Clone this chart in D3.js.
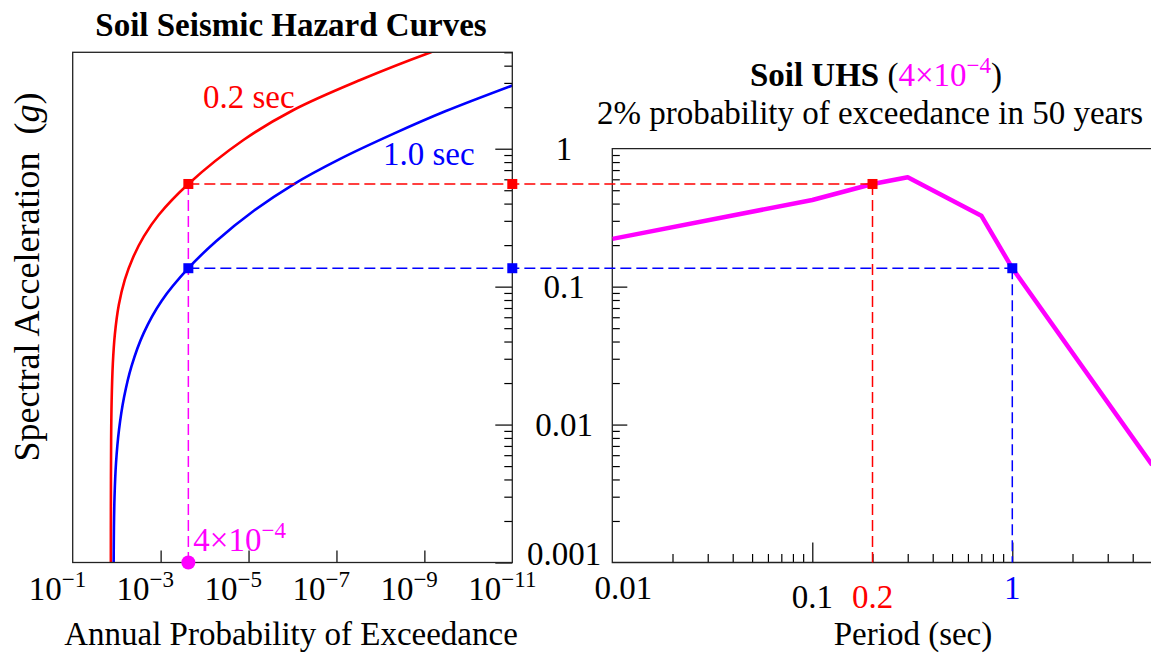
<!DOCTYPE html>
<html>
<head>
<meta charset="utf-8">
<script src="https://cdn.jsdelivr.net/npm/d3@7"></script>
<style>
body { margin: 0; background: #fff; }
text { font-family: "Liberation Serif", "DejaVu Serif", serif; }
</style>
</head>
<body>
<script>
// hazard curves: [annual probability, Sa (g)]
var hazard02 = [[0.013564, 0.001], [0.013539, 0.002379], [0.013363, 0.007656], [0.013018, 0.01473],
  [0.012222, 0.0276], [0.011005, 0.04486], [0.008925, 0.07379], [0.006517, 0.11238],
  [0.004283, 0.16148], [0.002407, 0.23121], [0.0010965, 0.33214], [2.34e-4, 0.555],
  [1.308e-5, 1.156], [9.515e-7, 1.909], [2.884e-8, 3.149], [7.355e-10, 4.984], [8.666e-11, 6.30]];
var hazard10 = [[0.011703, 0.001], [0.011556, 0.001703], [0.011182, 0.003], [0.010334, 0.005284],
  [0.008831, 0.009183], [0.006796, 0.01575], [0.004587, 0.02655], [0.002445, 0.04585],
  [9.52e-4, 0.07872], [2.34e-4, 0.136], [5.47e-5, 0.2134], [7.46e-6, 0.3562],
  [9.665e-7, 0.55], [8.23e-8, 0.8434], [5.12e-9, 1.28], [3.35e-10, 1.867], [1e-11, 2.873]];

// uniform hazard spectrum
var periods = [0.01, 0.1, 0.2, 0.3, 0.7, 1, 5];
var uhsSa = [0.222, 0.425, 0.555, 0.62, 0.327, 0.136, 0.0051];

// picked points (where the dashed lines cross)
var targetProb = 2.34e-4;      // drawn position of the 4x10^-4 marker
var pickPeriods = [0.2, 1];
var pickSa = [0.555, 0.136];
var pickColors = ["#ff0000", "#0000ff"];

// tick labels
var probTickExp = [-1, -3, -5, -7, -9, -11];
var saTicks = [1, 0.1, 0.01, 0.001];
var saTickText = ["1", "0.1", "0.01", "0.001"];
var periodTicks = [0.01, 0.1, 0.2, 1];
var periodTickText = ["0.01", "0.1", "0.2", "1"];
var periodTickColor = ["#000", "#000", "#ff0000", "#0000ff"];

var W = 1151, H = 654;
var FS = 33, SUP = 23;
var svg = d3.select("body").append("svg")
  .attr("width", W)
  .attr("height", H);

var L = {x0: 72.7, x1: 512.3, top: 52.3, bot: 562.5};
var R = {x0: 612.3, top: 148.7, bot: 562.5};

var xL = d3.scaleLog().domain([1e-1, 1e-11]).range([L.x0, L.x1]);
var yL = d3.scaleLog().domain([0.001, 5]).range([L.bot, L.top]);
var xR = d3.scaleLog().domain([0.01, 5]).range([R.x0, R.x0 + Math.log10(500) * 200]);
var yR = d3.scaleLog().domain([0.001, 1]).range([R.bot, R.top]);

function minorTicks(scale) {
  return scale.ticks().filter(function(v) {
    var m = v / Math.pow(10, Math.floor(Math.log10(v) + 1e-9));
    return Math.abs(m - 1) > 1e-6;
  });
}

// clip paths
var defs = svg.append("defs");
defs.append("clipPath").attr("id", "clipL").append("rect")
  .attr("x", L.x0).attr("y", L.top).attr("width", L.x1 - L.x0).attr("height", L.bot - L.top);
defs.append("clipPath").attr("id", "clipR").append("rect")
  .attr("x", R.x0).attr("y", R.top).attr("width", W - R.x0).attr("height", R.bot - R.top);

// ---------- left plot ----------
var gL = svg.append("g");

// right-side ticks (pointing in)
gL.append("g").attr("transform", "translate(" + L.x1 + ",0)")
  .call(d3.axisLeft(yL).tickValues([0.001, 0.01, 0.1, 1]).tickSize(17).tickFormat(""))
  .call(function(g) { g.select(".domain").remove(); });
gL.append("g").attr("transform", "translate(" + L.x1 + ",0)")
  .call(d3.axisLeft(yL).tickValues(minorTicks(yL)).tickSize(8).tickFormat(""))
  .call(function(g) { g.select(".domain").remove(); });
// bottom ticks
gL.append("g").attr("transform", "translate(0," + L.bot + ")")
  .call(d3.axisTop(xL).tickValues([1e-3, 1e-5, 1e-7, 1e-9]).tickSize(12).tickFormat(""))
  .call(function(g) { g.select(".domain").remove(); });

gL.selectAll(".tick line").attr("stroke", "#000").attr("stroke-width", 1.2);

var lineL = d3.line()
  .x(function(d) { return xL(d[0]); })
  .y(function(d) { return yL(d[1]); })
  .curve(d3.curveCatmullRom.alpha(0.5));

var curves = gL.append("g").attr("clip-path", "url(#clipL)");
curves.append("path").datum(hazard02)
  .attr("d", lineL).attr("fill", "none").attr("stroke", "#ff0000").attr("stroke-width", 2.6);
curves.append("path").datum(hazard10)
  .attr("d", lineL).attr("fill", "none").attr("stroke", "#0000ff").attr("stroke-width", 2.6);

gL.append("rect")
  .attr("x", L.x0).attr("y", L.top).attr("width", L.x1 - L.x0).attr("height", L.bot - L.top)
  .attr("fill", "none").attr("stroke", "#222").attr("stroke-width", 1.3);

gL.append("text").attr("x", 203).attr("y", 108)
  .attr("fill", "#ff0000").attr("font-size", FS).text("0.2 sec");
gL.append("text").attr("x", 383).attr("y", 165)
  .attr("fill", "#0000ff").attr("font-size", FS).text("1.0 sec");

// ---------- right plot ----------
var gR = svg.append("g");
gR.append("g").attr("transform", "translate(" + R.x0 + ",0)")
  .call(d3.axisRight(yR).tickValues([0.01, 0.1]).tickSize(15).tickFormat(""))
  .call(function(g) { g.select(".domain").remove(); });
gR.append("g").attr("transform", "translate(" + R.x0 + ",0)")
  .call(d3.axisRight(yR).tickValues(minorTicks(yR)).tickSize(7.5).tickFormat(""))
  .call(function(g) { g.select(".domain").remove(); });
gR.append("g").attr("transform", "translate(0," + R.bot + ")")
  .call(d3.axisTop(xR).tickValues([0.1, 1]).tickSize(20).tickFormat(""))
  .call(function(g) { g.select(".domain").remove(); });
gR.append("g").attr("transform", "translate(0," + R.bot + ")")
  .call(d3.axisTop(xR).tickValues(minorTicks(xR).filter(function(v) { return v < 5; })).tickSize(8.5).tickFormat(""))
  .call(function(g) { g.select(".domain").remove(); });
gR.selectAll(".tick line").attr("stroke", "#000").attr("stroke-width", 1.2);

// frame: left, top, bottom (right side runs off the page)
gR.append("path")
  .attr("d", "M" + W + "," + R.top + "H" + R.x0 + "V" + R.bot + "H" + W)
  .attr("fill", "none").attr("stroke", "#222").attr("stroke-width", 1.3);

// ---------- dashed guide lines ----------
var guides = svg.append("g").attr("fill", "none").attr("stroke-width", 1.5).attr("stroke-dasharray", "11,5");
guides.append("line")
  .attr("x1", xL(targetProb)).attr("x2", xL(targetProb))
  .attr("y1", yL(pickSa[0])).attr("y2", L.bot)
  .attr("stroke", "#ff00ff");
pickSa.forEach(function(s, i) {
  guides.append("line")
    .attr("x1", xL(targetProb)).attr("x2", xR(pickPeriods[i]))
    .attr("y1", yL(s)).attr("y2", yL(s))
    .attr("stroke", pickColors[i]);
  guides.append("line")
    .attr("x1", xR(pickPeriods[i])).attr("x2", xR(pickPeriods[i]))
    .attr("y1", yR(s)).attr("y2", R.bot)
    .attr("stroke", pickColors[i]);
});

// UHS line
var lineR = d3.line()
  .x(function(d, i) { return xR(periods[i]); })
  .y(function(d) { return yR(d); });
gR.append("path").datum(uhsSa)
  .attr("clip-path", "url(#clipR)")
  .attr("d", lineR).attr("fill", "none").attr("stroke", "#ff00ff").attr("stroke-width", 4.5)
  .attr("stroke-linejoin", "round");

// square markers
var sq = 10;
pickSa.forEach(function(s, i) {
  [xL(targetProb), L.x1, xR(pickPeriods[i])].forEach(function(px) {
    svg.append("rect")
      .attr("x", px - sq / 2).attr("y", yL(s) - sq / 2)
      .attr("width", sq).attr("height", sq)
      .attr("fill", pickColors[i]);
  });
});

// magenta dot on the probability axis
svg.append("circle")
  .attr("cx", xL(targetProb)).attr("cy", L.bot).attr("r", 7)
  .attr("fill", "#ff00ff");

var mLabel = svg.append("text").attr("x", xL(targetProb) + 5).attr("y", 551)
  .attr("fill", "#ff00ff").attr("font-size", FS);
mLabel.append("tspan").text("4\u00d710");
mLabel.append("tspan").attr("dy", -13).attr("font-size", SUP).text("\u22124");

// ---------- tick labels ----------
probTickExp.forEach(function(e) {
  var t = svg.append("text")
    .attr("x", xL(Math.pow(10, e)) - 44).attr("y", 600)
    .attr("font-size", FS);
  t.append("tspan").text("10");
  t.append("tspan").attr("dy", -13).attr("font-size", SUP).text("\u2212" + Math.abs(e));
});

saTicks.forEach(function(v, i) {
  svg.append("text")
    .attr("x", 564)
    .attr("y", Math.min(yR(v), R.bot - 9))
    .attr("dy", "0.35em")
    .attr("text-anchor", "middle")
    .attr("font-size", FS)
    .text(saTickText[i]);
});

var periodBase = [599, 608, 608, 599];
periodTicks.forEach(function(v, i) {
  svg.append("text")
    .attr("x", xR(v) + (i == 0 ? 11 : 0)).attr("y", periodBase[i])
    .attr("text-anchor", "middle")
    .attr("font-size", FS)
    .attr("fill", periodTickColor[i])
    .text(periodTickText[i]);
});

// ---------- titles and axis names ----------
svg.append("text").attr("x", 291).attr("y", 36)
  .attr("text-anchor", "middle").attr("font-size", FS).attr("font-weight", "bold")
  .text("Soil Seismic Hazard Curves");

var t2 = svg.append("text").attr("x", 876).attr("y", 86)
  .attr("text-anchor", "middle").attr("font-size", FS);
t2.append("tspan").attr("font-weight", "bold").text("Soil UHS");
t2.append("tspan").text(" (");
t2.append("tspan").attr("fill", "#ff00ff").text("4\u00d710");
t2.append("tspan").attr("fill", "#ff00ff").attr("dy", -13).attr("font-size", SUP).text("\u22124");
t2.append("tspan").attr("dy", 13).text(")");

svg.append("text").attr("x", 870).attr("y", 124)
  .attr("text-anchor", "middle").attr("font-size", FS)
  .text("2% probability of exceedance in 50 years");

svg.append("text").attr("x", 291).attr("y", 645)
  .attr("text-anchor", "middle").attr("font-size", FS)
  .text("Annual Probability of Exceedance");

svg.append("text").attr("x", 913).attr("y", 645)
  .attr("text-anchor", "middle").attr("font-size", FS)
  .text("Period (sec)");

var yl = svg.append("text")
  .attr("transform", "translate(39,277) rotate(-90)")
  .attr("text-anchor", "middle").attr("font-size", 36);
yl.append("tspan").text("Spectral Acceleration\u00a0 (");
yl.append("tspan").attr("font-style", "italic").text("g");
yl.append("tspan").text(")");
</script>
</body>
</html>
